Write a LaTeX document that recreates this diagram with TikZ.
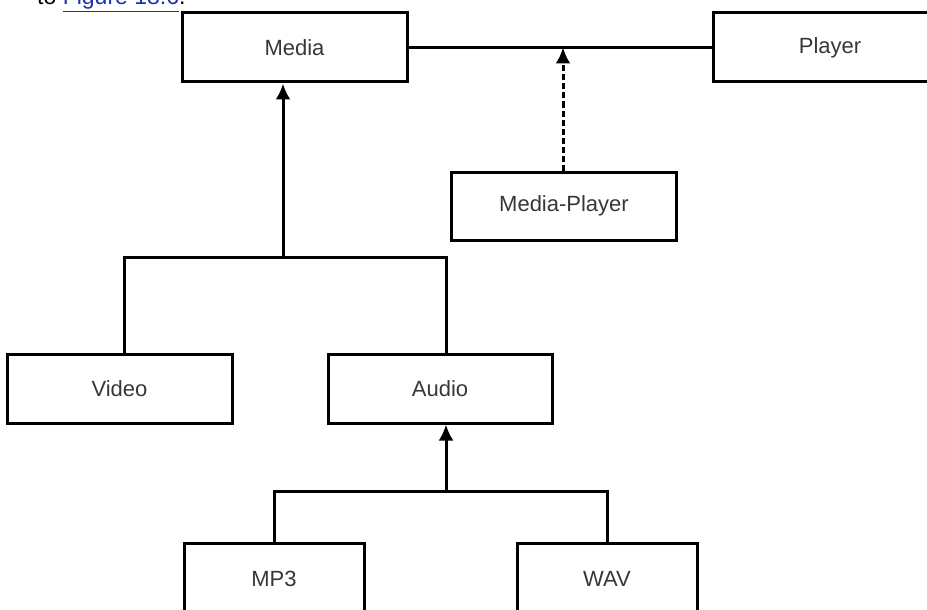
\documentclass[tikz,border=0pt]{standalone}
\usepackage{fontspec}
\setmainfont{Liberation Sans}
\usepackage{tikz}
\usetikzlibrary{arrows.meta,positioning}
\definecolor{linkblue}{RGB}{28,48,178}
\definecolor{boxtext}{RGB}{55,55,55}

\begin{document}
\begin{tikzpicture}[
  x=1pt, y=-1pt,
  box/.style={draw, line width=3pt, align=center, font=\fontsize{22}{26}\selectfont, text=boxtext, minimum width=225pt, minimum height=69pt, inner sep=0pt},
  arr/.style={-{Latex[length=16pt,width=15pt]}, line width=3pt},
  dasharr/.style={-{Latex[length=16pt,width=15pt]}, line width=3pt, dash pattern=on 6pt off 3pt},
  link/.style={line width=3pt}
]
\useasboundingbox (0,0) rectangle (927,610);
\clip (0,0) rectangle (927,610);
\node[anchor=base west, font=\fontsize{23}{27}\selectfont, inner sep=0pt] (caption) at (37,5) {to \textcolor{linkblue}{\underline{Figure 18.6}}.};
\node[box] (media) at (294.5,47.5) {Media};
\node[box, minimum width=234pt] (player) at (830,47.5) {Player};
\node[box, minimum height=68pt] (mediaplayer) at (564,206) {Media-Player};
\node[box] (video) at (119.5,388.5) {Video};
\node[box, minimum width=224pt] (audio) at (440,388.5) {Audio};
\node[box, minimum width=180pt, minimum height=72pt] (mp3) at (274,579) {MP3};
\node[box, minimum width=180pt, minimum height=72pt] (wav) at (607,579) {WAV};
\coordinate (b1) at (283,257);
\coordinate (b2) at (446,491);
\draw[link] (media) -- (player);
\draw[dasharr] ([xshift=-1pt]mediaplayer.north) -- ([xshift=-1pt]mediaplayer.north |- media.east);
\draw[arr] (b1) -- (b1 |- media.south);
\draw[link] ([xshift=4.5pt]video.north) |- (b1) -| ([xshift=6pt]audio.north);
\draw[arr] (b2) -- (b2 |- audio.south);
\draw[link] (mp3.north) |- (b2) -| (wav.north);
\end{tikzpicture}
\end{document}
